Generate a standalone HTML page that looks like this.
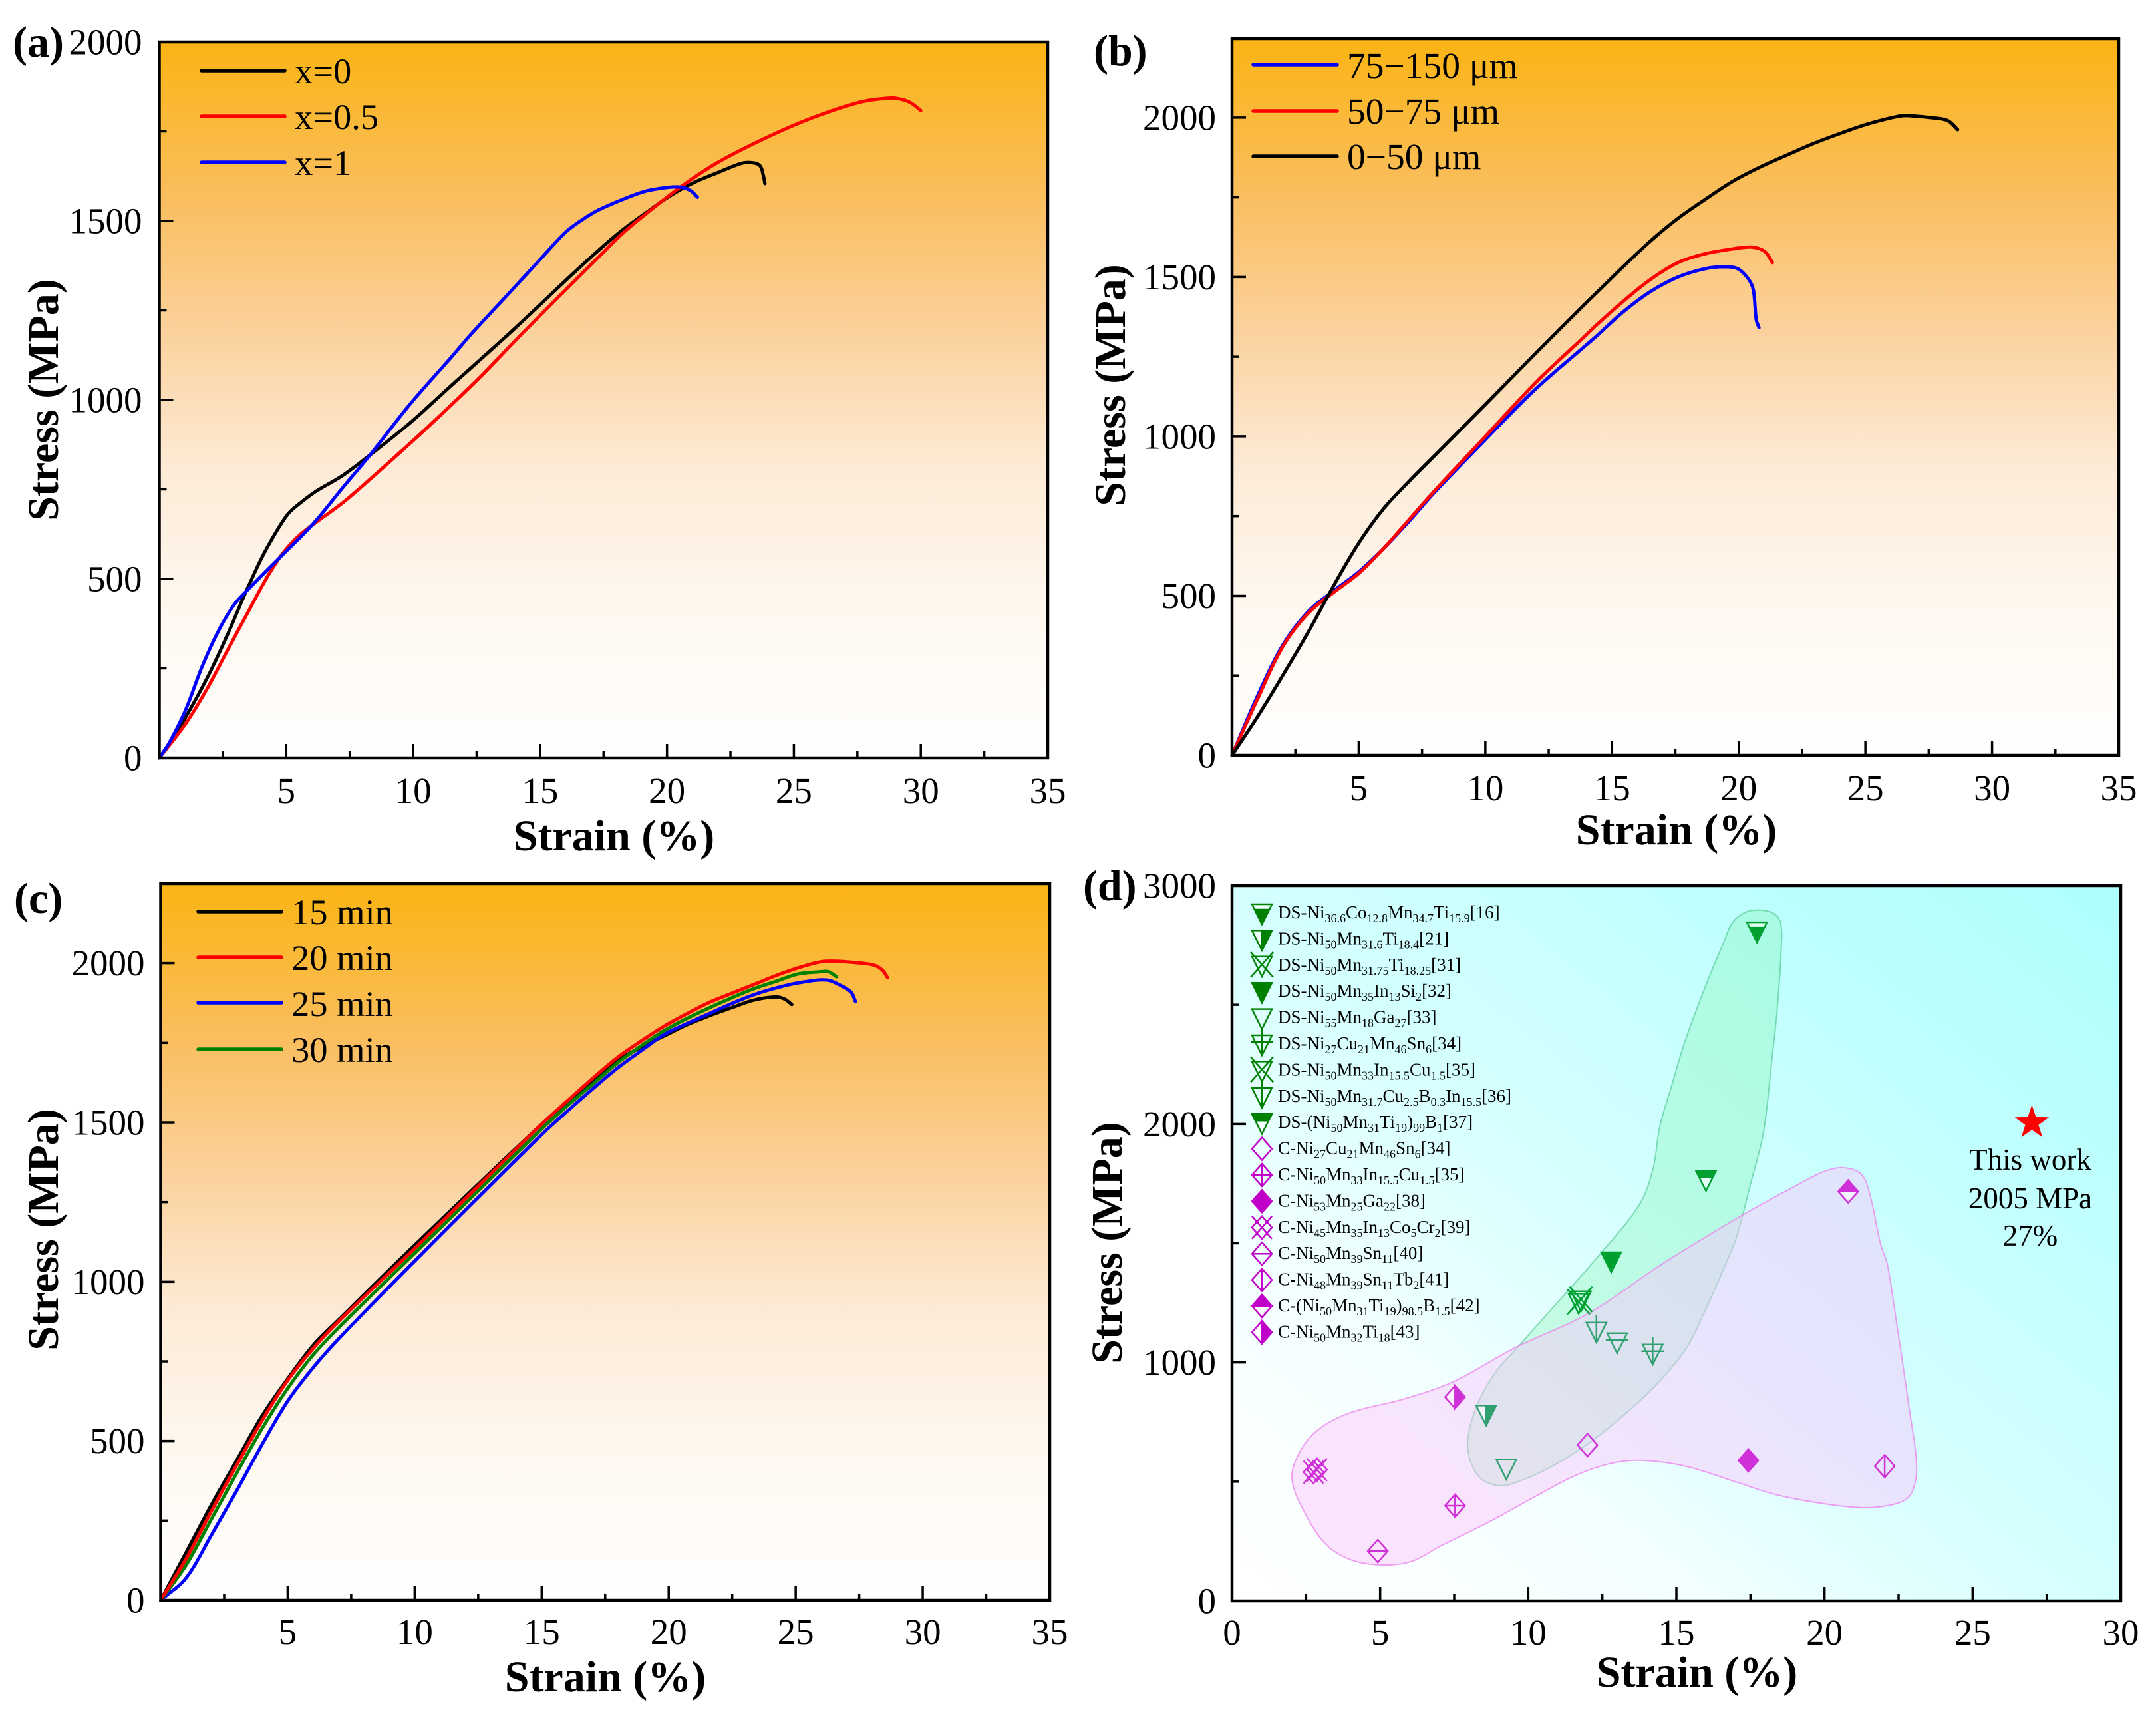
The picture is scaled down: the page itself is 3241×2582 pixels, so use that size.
<!DOCTYPE html>
<html lang="en">
<head>
<meta charset="utf-8">
<title>Stress-strain curves</title>
<style>
html,body{margin:0;padding:0;background:#fff;}
svg{display:block;}
text{font-family:"Liberation Serif","Noto Serif CJK SC",serif;fill:#000;}
.tick{font-size:55px;}
.title{font-size:66px;font-weight:bold;}
.leg{font-size:54.5px;}
.legb{font-size:55.5px;}
.dleg{font-size:27px;}
.dleg tspan.s{font-size:18px;}
.note{font-size:45px;text-anchor:middle;}
</style>
</head>
<body>
<svg id="fig" xmlns="http://www.w3.org/2000/svg" width="3241" height="2582" viewBox="0 0 3241 2582">
<defs>
<linearGradient id="orangeGrad" x1="0" y1="0" x2="0" y2="1">
<stop offset="0" stop-color="#FAB414"/><stop offset=".22" stop-color="#FABE5F"/><stop offset=".41" stop-color="#FBD29E"/><stop offset=".6" stop-color="#FDEBD7"/><stop offset=".78" stop-color="#FEF7EE"/><stop offset="1" stop-color="#FFFFFF"/>
</linearGradient>
<linearGradient id="cyanGrad" x1="0" y1="1" x2="1" y2="0">
<stop offset="0" stop-color="#FFFFFF"/><stop offset=".25" stop-color="#F4FFFF"/><stop offset=".5" stop-color="#D4FFFF"/><stop offset="1" stop-color="#ACFFFC"/>
</linearGradient>
</defs>

<g id="panelA"></g>
<g id="panelB"></g>
<g id="panelC"></g>
<g id="panelD"></g>

<text class="title" x="19" y="85">(a)</text>
<text class="title" x="1644" y="98">(b)</text>
<text class="title" x="21" y="1372">(c)</text>
<text class="title" x="1628" y="1353">(d)</text>

<text class="title" x="923" y="1278" text-anchor="middle">Strain (%)</text>
<text class="title" x="2520" y="1269" text-anchor="middle">Strain (%)</text>
<text class="title" x="910" y="2542" text-anchor="middle">Strain (%)</text>
<text class="title" x="2551" y="2535" text-anchor="middle">Strain (%)</text>

<text class="title" transform="translate(87 601) rotate(-90)" text-anchor="middle">Stress (MPa)</text>
<text class="title" transform="translate(1691 579) rotate(-90)" text-anchor="middle">Stress (MPa)</text>
<text class="title" transform="translate(87 1848) rotate(-90)" text-anchor="middle">Stress (MPa)</text>
<text class="title" transform="translate(1686 1868) rotate(-90)" text-anchor="middle">Stress (MPa)</text>

<g>
<text class="leg" x="443" y="125">x=0</text>
<text class="leg" x="443" y="194">x=0.5</text>
<text class="leg" x="443" y="263">x=1</text>
</g>
<g>
<text class="legb" x="2025" y="117">75−150 μm</text>
<text class="legb" x="2025" y="186">50−75 μm</text>
<text class="legb" x="2025" y="254">0−50 μm</text>
</g>
<g>
<text class="leg" x="438" y="1389">15 min</text>
<text class="leg" x="438" y="1458">20 min</text>
<text class="leg" x="438" y="1527">25 min</text>
<text class="leg" x="438" y="1596">30 min</text>
</g>

<g id="legendDText" transform="translate(0 -2)">
<text class="dleg" x="1921" y="1382">DS-Ni<tspan class="s" dy="6">36.6</tspan><tspan dy="-6">Co</tspan><tspan class="s" dy="6">12.8</tspan><tspan dy="-6">Mn</tspan><tspan class="s" dy="6">34.7</tspan><tspan dy="-6">Ti</tspan><tspan class="s" dy="6">15.9</tspan><tspan dy="-6">[16]</tspan></text>
<text class="dleg" x="1921" y="1421.4">DS-Ni<tspan class="s" dy="6">50</tspan><tspan dy="-6">Mn</tspan><tspan class="s" dy="6">31.6</tspan><tspan dy="-6">Ti</tspan><tspan class="s" dy="6">18.4</tspan><tspan dy="-6">[21]</tspan></text>
<text class="dleg" x="1921" y="1460.8">DS-Ni<tspan class="s" dy="6">50</tspan><tspan dy="-6">Mn</tspan><tspan class="s" dy="6">31.75</tspan><tspan dy="-6">Ti</tspan><tspan class="s" dy="6">18.25</tspan><tspan dy="-6">[31]</tspan></text>
<text class="dleg" x="1921" y="1500.2">DS-Ni<tspan class="s" dy="6">50</tspan><tspan dy="-6">Mn</tspan><tspan class="s" dy="6">35</tspan><tspan dy="-6">In</tspan><tspan class="s" dy="6">13</tspan><tspan dy="-6">Si</tspan><tspan class="s" dy="6">2</tspan><tspan dy="-6">[32]</tspan></text>
<text class="dleg" x="1921" y="1539.6">DS-Ni<tspan class="s" dy="6">55</tspan><tspan dy="-6">Mn</tspan><tspan class="s" dy="6">18</tspan><tspan dy="-6">Ga</tspan><tspan class="s" dy="6">27</tspan><tspan dy="-6">[33]</tspan></text>
<text class="dleg" x="1921" y="1579">DS-Ni<tspan class="s" dy="6">27</tspan><tspan dy="-6">Cu</tspan><tspan class="s" dy="6">21</tspan><tspan dy="-6">Mn</tspan><tspan class="s" dy="6">46</tspan><tspan dy="-6">Sn</tspan><tspan class="s" dy="6">6</tspan><tspan dy="-6">[34]</tspan></text>
<text class="dleg" x="1921" y="1618.4">DS-Ni<tspan class="s" dy="6">50</tspan><tspan dy="-6">Mn</tspan><tspan class="s" dy="6">33</tspan><tspan dy="-6">In</tspan><tspan class="s" dy="6">15.5</tspan><tspan dy="-6">Cu</tspan><tspan class="s" dy="6">1.5</tspan><tspan dy="-6">[35]</tspan></text>
<text class="dleg" x="1921" y="1657.8">DS-Ni<tspan class="s" dy="6">50</tspan><tspan dy="-6">Mn</tspan><tspan class="s" dy="6">31.7</tspan><tspan dy="-6">Cu</tspan><tspan class="s" dy="6">2.5</tspan><tspan dy="-6">B</tspan><tspan class="s" dy="6">0.3</tspan><tspan dy="-6">In</tspan><tspan class="s" dy="6">15.5</tspan><tspan dy="-6">[36]</tspan></text>
<text class="dleg" x="1921" y="1697.2">DS-(Ni<tspan class="s" dy="6">50</tspan><tspan dy="-6">Mn</tspan><tspan class="s" dy="6">31</tspan><tspan dy="-6">Ti</tspan><tspan class="s" dy="6">19</tspan><tspan dy="-6">)</tspan><tspan class="s" dy="6">99</tspan><tspan dy="-6">B</tspan><tspan class="s" dy="6">1</tspan><tspan dy="-6">[37]</tspan></text>
<text class="dleg" x="1921" y="1736.6">C-Ni<tspan class="s" dy="6">27</tspan><tspan dy="-6">Cu</tspan><tspan class="s" dy="6">21</tspan><tspan dy="-6">Mn</tspan><tspan class="s" dy="6">46</tspan><tspan dy="-6">Sn</tspan><tspan class="s" dy="6">6</tspan><tspan dy="-6">[34]</tspan></text>
<text class="dleg" x="1921" y="1776">C-Ni<tspan class="s" dy="6">50</tspan><tspan dy="-6">Mn</tspan><tspan class="s" dy="6">33</tspan><tspan dy="-6">In</tspan><tspan class="s" dy="6">15.5</tspan><tspan dy="-6">Cu</tspan><tspan class="s" dy="6">1.5</tspan><tspan dy="-6">[35]</tspan></text>
<text class="dleg" x="1921" y="1815.4">C-Ni<tspan class="s" dy="6">53</tspan><tspan dy="-6">Mn</tspan><tspan class="s" dy="6">25</tspan><tspan dy="-6">Ga</tspan><tspan class="s" dy="6">22</tspan><tspan dy="-6">[38]</tspan></text>
<text class="dleg" x="1921" y="1854.8">C-Ni<tspan class="s" dy="6">45</tspan><tspan dy="-6">Mn</tspan><tspan class="s" dy="6">35</tspan><tspan dy="-6">In</tspan><tspan class="s" dy="6">13</tspan><tspan dy="-6">Co</tspan><tspan class="s" dy="6">5</tspan><tspan dy="-6">Cr</tspan><tspan class="s" dy="6">2</tspan><tspan dy="-6">[39]</tspan></text>
<text class="dleg" x="1921" y="1894.2">C-Ni<tspan class="s" dy="6">50</tspan><tspan dy="-6">Mn</tspan><tspan class="s" dy="6">39</tspan><tspan dy="-6">Sn</tspan><tspan class="s" dy="6">11</tspan><tspan dy="-6">[40]</tspan></text>
<text class="dleg" x="1921" y="1933.6">C-Ni<tspan class="s" dy="6">48</tspan><tspan dy="-6">Mn</tspan><tspan class="s" dy="6">39</tspan><tspan dy="-6">Sn</tspan><tspan class="s" dy="6">11</tspan><tspan dy="-6">Tb</tspan><tspan class="s" dy="6">2</tspan><tspan dy="-6">[41]</tspan></text>
<text class="dleg" x="1921" y="1973">C-(Ni<tspan class="s" dy="6">50</tspan><tspan dy="-6">Mn</tspan><tspan class="s" dy="6">31</tspan><tspan dy="-6">Ti</tspan><tspan class="s" dy="6">19</tspan><tspan dy="-6">)</tspan><tspan class="s" dy="6">98.5</tspan><tspan dy="-6">B</tspan><tspan class="s" dy="6">1.5</tspan><tspan dy="-6">[42]</tspan></text>
<text class="dleg" x="1921" y="2012.4">C-Ni<tspan class="s" dy="6">50</tspan><tspan dy="-6">Mn</tspan><tspan class="s" dy="6">32</tspan><tspan dy="-6">Ti</tspan><tspan class="s" dy="6">18</tspan><tspan dy="-6">[43]</tspan></text>
</g>

<text class="note" x="3052" y="1758">This work</text>
<text class="note" x="3052" y="1816">2005 MPa</text>
<text class="note" x="3052" y="1872">27%</text>
</svg>

<script>
// ---------- shared tick labels ----------
const xTickLabels = [5,10,15,20,25,30,35];
const xMinorTicks = [2.5,7.5,12.5,17.5,22.5,27.5,32.5];
const yTickLabels = [0,500,1000,1500,2000];
const yMinorTicks = [250,750,1250,1750];
const xTickLabelsD = [0,5,10,15,20,25,30];
const xMinorTicksD = [2.5,7.5,12.5,17.5,22.5,27.5];
const yTickLabelsD = [0,1000,2000,3000];
const yMinorTicksD = [500,1500,2500];

// ---------- panel (a) ----------
const aX0Strain = [0,0.82,1.89,2.74,3.38,4.03,4.56,5.09,5.57,6.16,7.23,8.3,9.9,11.5,13.64,15,16,17.29,18.22,19.16,20.1,21.03,21.97,22.9,23.27,23.65,23.79,23.86];
const aX0Stress = [0,88,224,353,459,558,626,683,713,744,789,846,937,1040,1176,1266,1333,1417,1473,1522,1569,1606,1634,1660,1663,1655,1628,1604];
const aX05Strain = [0,1.03,1.89,2.74,3.6,4.24,4.88,5.52,6.16,7.23,8.3,9.37,10.44,12.57,14.33,17.29,18.22,19.16,20.56,21.97,23.84,25.7,27.58,28.79,29.25,29.62,30];
const aX05Stress = [0,95,194,308,421,504,573,622,657,713,778,846,915,1059,1188,1398,1463,1519,1596,1662,1730,1787,1831,1843,1839,1829,1808];
const aX1Strain = [0,0.39,1.03,1.68,2.32,2.96,3.6,4.24,4.88,6.05,7.23,8.3,9.9,11.5,12.3,14,15,16,16.7,17.29,18.22,19.16,20.1,20.56,20.94,21.2];
const aX1Stress = [0,42,133,254,353,429,478,524,569,653,755,846,990,1119,1185,1315,1392,1468,1505,1530,1559,1583,1594,1594,1584,1566];

// ---------- panel (b) ----------
const b75Strain = [0,1,2,3,4,5,6,7,8,10,12,14,14.39,15.46,16.53,17.6,18.67,19.42,19.96,20.39,20.58,20.69,20.8];
const b75Stress = [0,185,345,450,515,575,650,735,825,990,1150,1288,1315,1392,1455,1500,1526,1532,1526,1493,1458,1367,1341];
const b50Strain = [0,1,2,3,4,5,6,7,8,10,12,14,14.39,15.46,16.53,17.6,18.67,19.74,20.5,21.03,21.33];
const b50Stress = [0,175,340,445,510,570,650,740,830,1000,1170,1320,1350,1425,1493,1545,1573,1588,1594,1580,1545];
const b0Strain = [0,1,2,3,4,5,6,7,8,10,12,14,14.39,15.46,16.53,17.6,18.67,19.74,20.82,21.89,22.96,24.03,25.1,26.17,26.6,27.67,28.26,28.64];
const b0Stress = [0,120,250,385,530,665,775,860,940,1100,1262,1421,1451,1534,1614,1684,1743,1799,1844,1882,1919,1951,1980,2002,2006,1999,1990,1962];

// ---------- panel (c) ----------
const c15Strain = [0,1,2,3,4,5,6,7,10,15,16,17,18,19,19.86,20.73,21.6,22.47,23.35,24.22,24.57,24.85];
const c15Stress = [0,150,300,440,580,695,800,880,1115,1495,1565,1632,1695,1740,1773,1807,1835,1860,1884,1894,1887,1870];
const c20Strain = [0,1,2,3,4,5,6,7,10,15,16,17,18,19,19.86,20.73,21.6,22.47,23.35,24.22,25.09,25.96,26.58,27.71,28.15,28.45,28.61];
const c20Stress = [0,130,280,425,565,690,790,875,1105,1495,1567,1638,1705,1760,1804,1842,1877,1905,1933,1961,1985,2004,2006,1999,1992,1975,1955];
const c25Strain = [0,1,2,3,4,5,6,7,10,15,16,17,18,19,19.86,20.73,21.6,22.47,23.35,24.22,25.09,26.22,26.84,27.19,27.35];
const c25Stress = [0,70,205,345,490,625,730,820,1065,1462,1535,1605,1672,1730,1778,1811,1842,1873,1901,1922,1938,1947,1927,1908,1880];
const c30Strain = [0,1,2,3,4,5,6,7,10,15,16,17,18,19,19.86,20.73,21.6,22.47,23.35,24.22,25.09,25.96,26.3,26.61];
const c30Stress = [0,110,255,400,540,665,770,855,1090,1480,1552,1620,1688,1745,1790,1827,1860,1891,1920,1943,1966,1973,1973,1957];

// ---------- panel (d) ----------
const scatterStrain = [17.72,8.58,11.7,11.78,12.8,9.26,14.2,12.3,13.0,16.0,12.0,7.53,17.43,2.75,2.87,4.92,22.03,20.8,7.53];
const scatterStress = [2810,783,1252,1262,1426,557,1039,1131,1086,1767,654,399,589,540,550,209,565,1717,855];
const scatterMarkers = ['tri-half-bottom','tri-half-right','tri-x','tri-x','tri-fill','tri-open','tri-plus','tri-vline','tri-hline','tri-half-top','dia-open','dia-plus','dia-fill','dia-x','dia-x','dia-hline','dia-vline','dia-half-top','dia-half-right'];
const legendMarkers = ['tri-half-bottom','tri-half-right','tri-x','tri-fill','tri-open','tri-plus','tri-x','tri-vline','tri-half-top','dia-open','dia-plus','dia-fill','dia-x','dia-hline','dia-vline','dia-half-top','dia-half-right'];
const thisWorkStrain = 27;
const thisWorkStress = 2005;
const dsRegionStrain = [16.89,17.34,17.88,18.32,18.53,18.53,18.41,18.23,17.94,17.49,17.04,16.66,16.15,15.34,14.3,13.27,12.04,10.8,9.77,9.07,8.42,8.04,7.97,8.31,8.94,9.66,10.58,12.42,13.77,14.22,14.44,14.82,15.27,16.01,16.6];
const dsRegionStress = [2844,2889,2897,2880,2838,2713,2490,2277,1965,1742,1529,1412,1267,1061,904,784,661,564,505,483,511,589,687,832,966,1066,1195,1454,1666,1817,1990,2152,2339,2587,2763];
const cRegionStrain = [20.62,21.22,21.51,21.9,22.12,22.43,22.86,23.11,22.95,22.55,21.51,20.28,18.41,16.98,15.34,13.88,12.85,11.61,10.17,8.74,7.07,6.04,5.01,4.0,3.17,2.45,2.02,2.34,2.96,4.0,5.84,7.5,9.54,12.04,14.51,17.2,19.42,20.03];
const cRegionStress = [1817,1792,1716,1493,1412,1169,807,564,455,413,391,402,444,500,564,589,578,527,433,335,232,165,151,173,237,371,516,636,723,790,848,921,1061,1206,1412,1616,1767,1803];

const NS = 'http://www.w3.org/2000/svg';
function mk(tag, parent, name) {
  const el = document.createElementNS(NS, tag);
  
  
  parent.appendChild(el);
  return el;
}
function attrs(el, o) { for (const k in o) el.setAttribute(k, o[k]); return el; }

function smoothPath(pts, closed) {
  const n = pts.length;
  const at = i => closed ? pts[(i + n) % n] : pts[Math.max(0, Math.min(n - 1, i))];
  const tan = i => {
    const a = at(i - 1), b = at(i + 1);
    const dx = b[0] - a[0], dy = b[1] - a[1];
    const l = Math.hypot(dx, dy) || 1;
    return [dx / l, dy / l];
  };
  let d = 'M' + pts[0][0].toFixed(1) + ' ' + pts[0][1].toFixed(1);
  const segs = closed ? n : n - 1;
  for (let i = 0; i < segs; i++) {
    const p = at(i), q = at(i + 1);
    const l = Math.hypot(q[0] - p[0], q[1] - p[1]);
    const t0 = tan(i), t1 = tan(i + 1);
    d += 'C' + (p[0] + t0[0] * l / 3).toFixed(1) + ' ' + (p[1] + t0[1] * l / 3).toFixed(1) + ' ' +
         (q[0] - t1[0] * l / 3).toFixed(1) + ' ' + (q[1] - t1[1] * l / 3).toFixed(1) + ' ' +
         q[0].toFixed(1) + ' ' + q[1].toFixed(1);
  }
  return d + (closed ? 'Z' : '');
}

function makeAxes(cfg) {
  return {
    x: v => cfg.left + (v - cfg.xMin) / (cfg.xMax - cfg.xMin) * (cfg.right - cfg.left),
    y: v => cfg.bottom - (v - cfg.yMin) / (cfg.yMax - cfg.yMin) * (cfg.bottom - cfg.top)
  };
}

function drawBackground(g, cfg, fill) {
  const r = mk('rect', g, 'plot-background');
  attrs(r, {x: cfg.left, y: cfg.top, width: cfg.right - cfg.left, height: cfg.bottom - cfg.top, fill: fill});
}

function drawAxes(g, cfg, ax, xT, xM, yT, yM) {
  const tick = (x1, y1, x2, y2, name) => {
    const l = mk('line', g, name);
    attrs(l, {x1: x1, y1: y1, x2: x2, y2: y2, stroke: '#000', 'stroke-width': 3.5});
  };
  xT.forEach(v => {
    const x = ax.x(v);
    if (v > cfg.xMin && v < cfg.xMax) tick(x, cfg.bottom, x, cfg.bottom - 21, 'x-major-tick');
    const t = mk('text', g, 'x-tick-label');
    attrs(t, {x: x, y: cfg.bottom + cfg.xLabelOffset, class: 'tick', 'text-anchor': 'middle'});
    t.textContent = v;
  });
  xM.forEach(v => { const x = ax.x(v); tick(x, cfg.bottom, x, cfg.bottom - 10, 'x-minor-tick'); });
  yT.forEach(v => {
    const y = ax.y(v);
    if (v > cfg.yMin && v < cfg.yMax) tick(cfg.left, y, cfg.left + 21, y, 'y-major-tick');
    const t = mk('text', g, 'y-tick-label');
    attrs(t, {x: cfg.left - cfg.yLabelOffset, y: y + 18.5, class: 'tick', 'text-anchor': 'end'});
    t.textContent = v;
  });
  yM.forEach(v => { const y = ax.y(v); tick(cfg.left, y, cfg.left + 11, y, 'y-minor-tick'); });
}

function drawFrame(g, cfg) {
  const f = mk('rect', g, 'plot-frame');
  attrs(f, {x: cfg.left, y: cfg.top, width: cfg.right - cfg.left, height: cfg.bottom - cfg.top, fill: 'none', stroke: '#000', 'stroke-width': 4.5});
}

function drawSeries(g, ax, xs, ys, color, name) {
  const pts = xs.map((v, i) => [ax.x(v), ax.y(ys[i])]);
  const p = mk('path', g, name);
  attrs(p, {d: smoothPath(pts, false), fill: 'none', stroke: color, 'stroke-width': 5, 'stroke-linecap': 'round', 'stroke-linejoin': 'round'});
}

function legendLine(g, x1, x2, y, color, name) {
  const l = mk('line', g, name);
  attrs(l, {x1: x1, x2: x2, y1: y, y2: y, stroke: color, 'stroke-width': 5.5, 'stroke-linecap': 'round'});
}

// ---- panel a ----
const cfgA = {left: 239.5, right: 1575, top: 63, bottom: 1139, xMin: 0, xMax: 35, yMin: 0, yMax: 2000, xLabelOffset: 68, yLabelOffset: 26};
const axA = makeAxes(cfgA);
const gA = document.getElementById('panelA');
drawBackground(gA, cfgA, 'url(#orangeGrad)');
drawAxes(gA, cfgA, axA, xTickLabels, xMinorTicks, yTickLabels, yMinorTicks);
drawSeries(gA, axA, aX0Strain, aX0Stress, '#000000', 'series-x0');
drawSeries(gA, axA, aX05Strain, aX05Stress, '#FF0000', 'series-x05');
drawSeries(gA, axA, aX1Strain, aX1Stress, '#0000FF', 'series-x1');
drawFrame(gA, cfgA);
legendLine(gA, 303, 428, 106, '#000000', 'legend-line-x0');
legendLine(gA, 303, 428, 175, '#FF0000', 'legend-line-x05');
legendLine(gA, 303, 428, 244, '#0000FF', 'legend-line-x1');

// ---- panel b ----
const cfgB = {left: 1852, right: 3185, top: 58, bottom: 1135, xMin: 0, xMax: 35, yMin: 0, yMax: 2248, xLabelOffset: 68, yLabelOffset: 24};
const axB = makeAxes(cfgB);
const gB = document.getElementById('panelB');
drawBackground(gB, cfgB, 'url(#orangeGrad)');
drawAxes(gB, cfgB, axB, xTickLabels, xMinorTicks, yTickLabels, yMinorTicks);
drawSeries(gB, axB, b75Strain, b75Stress, '#0000FF', 'series-75-150um');
drawSeries(gB, axB, b50Strain, b50Stress, '#FF0000', 'series-50-75um');
drawSeries(gB, axB, b0Strain, b0Stress, '#000000', 'series-0-50um');
drawFrame(gB, cfgB);
legendLine(gB, 1884, 2010, 97, '#0000FF', 'legend-line-75-150um');
legendLine(gB, 1884, 2010, 167, '#FF0000', 'legend-line-50-75um');
legendLine(gB, 1884, 2010, 235, '#000000', 'legend-line-0-50um');

// ---- panel c ----
const cfgC = {left: 241.5, right: 1578, top: 1328, bottom: 2405, xMin: 0, xMax: 35, yMin: 0, yMax: 2250, xLabelOffset: 66, yLabelOffset: 24};
const axC = makeAxes(cfgC);
const gC = document.getElementById('panelC');
drawBackground(gC, cfgC, 'url(#orangeGrad)');
drawAxes(gC, cfgC, axC, xTickLabels, xMinorTicks, yTickLabels, yMinorTicks);
drawSeries(gC, axC, c15Strain, c15Stress, '#000000', 'series-15min');
drawSeries(gC, axC, c25Strain, c25Stress, '#0000FF', 'series-25min');
drawSeries(gC, axC, c30Strain, c30Stress, '#008000', 'series-30min');
drawSeries(gC, axC, c20Strain, c20Stress, '#FF0000', 'series-20min');
drawFrame(gC, cfgC);
legendLine(gC, 298, 423, 1370, '#000000', 'legend-line-15min');
legendLine(gC, 298, 423, 1439, '#FF0000', 'legend-line-20min');
legendLine(gC, 298, 423, 1507, '#0000FF', 'legend-line-25min');
legendLine(gC, 298, 423, 1577, '#008000', 'legend-line-30min');

// ---- panel d ----
const cfgD = {left: 1852, right: 3188, top: 1331, bottom: 2406, xMin: 0, xMax: 30, yMin: 0, yMax: 3000, xLabelOffset: 66, yLabelOffset: 24};
const axD = makeAxes(cfgD);
const gD = document.getElementById('panelD');

function drawMarker(parent, type, cx, cy, color) {
  const g = mk('g', parent, 'marker-' + type);
  g.setAttribute('transform', 'translate(' + cx.toFixed(1) + ' ' + cy.toFixed(1) + ')');
  const isTri = type.indexOf('tri') === 0;
  const outline = isTri ? '-15,-13 15,-13 0,17' : '0,-17 15,0 0,17 -15,0';
  const kind = type.slice(4);
  const poly = (pts, fill, nm) => {
    const p = mk('polygon', g, nm);
    attrs(p, {points: pts, fill: fill, stroke: color, 'stroke-width': 2.5, 'stroke-linejoin': 'miter'});
  };
  const seg = (x1, y1, x2, y2) => {
    const l = mk('line', g, 'marker-stroke');
    attrs(l, {x1: x1, y1: y1, x2: x2, y2: y2, stroke: color, 'stroke-width': 2.5});
  };
  if (kind === 'fill') { poly(outline, color, 'marker-body'); return; }
  poly(outline, kind.indexOf('half') === 0 ? 'rgba(255,255,255,0.6)' : 'none', 'marker-body');
  if (kind === 'half-bottom') poly(isTri ? '-11,-5 11,-5 0,17' : '-15,0 15,0 0,17', color, 'marker-half');
  if (kind === 'half-top') poly(isTri ? '-15,-13 15,-13 10,-3 -10,-3' : '-15,0 0,-17 15,0', color, 'marker-half');
  if (kind === 'half-right') poly(isTri ? '0,-13 15,-13 0,17' : '0,-17 15,0 0,17', color, 'marker-half');
  if (kind === 'x') {
    if (isTri) { seg(-17, -20, 17, 18); seg(17, -20, -17, 18); }
    else { seg(-15, -17, 15, 17); seg(15, -17, -15, 17); }
  }
  if (kind === 'plus') {
    if (isTri) { seg(0, -24, 0, 17); seg(-17, -3, 17, -3); }
    else { seg(0, -17, 0, 17); seg(-15, 0, 15, 0); }
  }
  if (kind === 'vline') { if (isTri) seg(0, -24, 0, 17); else seg(0, -17, 0, 17); }
  if (kind === 'hline') { if (isTri) seg(-17, -3, 17, -3); else seg(-15, 0, 15, 0); }
}

function drawRegion(xs, ys, fill, stroke, name) {
  const pts = xs.map((v, i) => [axD.x(v), axD.y(ys[i])]);
  const p = mk('path', gD, name);
  attrs(p, {d: smoothPath(pts, true), fill: fill, stroke: stroke, 'stroke-width': 2});
  return p;
}

drawBackground(gD, cfgD, 'url(#cyanGrad)');
drawAxes(gD, cfgD, axD, xTickLabelsD, xMinorTicksD, yTickLabelsD, yMinorTicksD);
drawRegion(dsRegionStrain, dsRegionStress, 'rgba(120,240,165,0.29)', 'rgba(60,190,130,0.55)', 'directional-solidified-region');
const regionC = drawRegion(cRegionStrain, cRegionStress, 'rgba(250,196,250,0.45)', 'rgba(235,130,235,0.75)', 'conventional-region');

const svgRoot = document.getElementById('fig');
scatterStrain.forEach((v, i) => {
  const cx = axD.x(v), cy = axD.y(scatterStress[i]);
  const isTri = scatterMarkers[i].indexOf('tri') === 0;
  const pt = svgRoot.createSVGPoint();
  pt.x = cx;
  pt.y = cy;
  const color = isTri ? (regionC.isPointInFill(pt) ? '#30A070' : '#00A030') : '#D030D8';
  drawMarker(gD, scatterMarkers[i], cx, cy, color);
});

legendMarkers.forEach((m, i) => drawMarker(gD, m, 1897, 1372 + 39.4 * i, m.indexOf('tri') === 0 ? '#008000' : '#C000C8'));

const star = mk('polygon', gD, 'this-work-star');
const starPts = [];
for (let i = 0; i < 10; i++) {
  const r = i % 2 ? 10.5 : 27;
  const a = -Math.PI / 2 + i * Math.PI / 5;
  starPts.push((axD.x(thisWorkStrain) + r * Math.cos(a)).toFixed(1) + ',' + (axD.y(thisWorkStress) + r * Math.sin(a)).toFixed(1));
}
attrs(star, {points: starPts.join(' '), fill: '#FF0000'});
drawFrame(gD, cfgD);
</script>
</body>
</html>
